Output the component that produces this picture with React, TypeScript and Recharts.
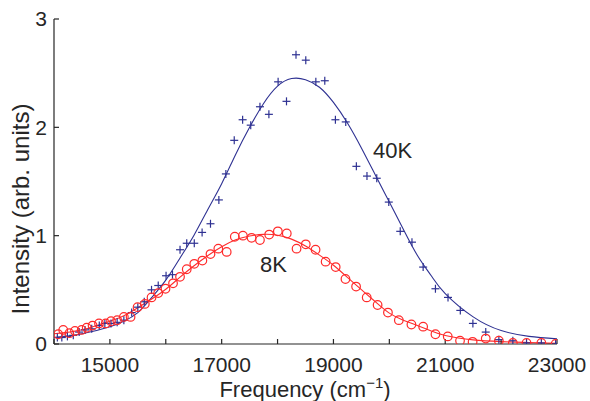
import React from 'react';
import { ComposedChart, Line, Scatter, XAxis, YAxis } from 'recharts';

// measured points, 40K (crosses)
const freq40 = [
  14060, 14140, 14240, 14345, 14450, 14555, 14675, 14810, 14910, 15020,
  15130, 15250, 15390, 15500, 15615, 15745, 15865, 16005, 16120, 16255,
  16375, 16510, 16650, 16800, 16950, 17075, 17225, 17375, 17520, 17685,
  17845, 18010, 18160, 18330, 18505, 18685, 18845, 19035, 19220, 19410,
  19600, 19775, 19990, 20195, 20405, 20605, 20825, 21050, 21270, 21495,
  21725, 21960, 22210, 22455, 22720, 22975,
];
const int40 = [
  0.06, 0.06, 0.07, 0.08, 0.11, 0.13, 0.14, 0.17, 0.19, 0.19,
  0.2, 0.22, 0.29, 0.34, 0.39, 0.5, 0.54, 0.63, 0.64, 0.87,
  0.93, 0.93, 1.03, 1.11, 1.33, 1.57, 1.88, 2.07, 2.02, 2.19,
  2.12, 2.42, 2.24, 2.67, 2.62, 2.42, 2.43, 2.07, 2.05, 1.64,
  1.55, 1.53, 1.31, 1.04, 0.94, 0.71, 0.51, 0.43, 0.31, 0.19,
  0.11, 0.04, 0.03, 0.01, 0.01, 0.0,
];

// measured points, 8K (circles)
const freq8 = [
  14075, 14165, 14275, 14375, 14495, 14585, 14690, 14805, 14925, 15020,
  15130, 15250, 15370, 15495, 15625, 15745, 15865, 15995, 16130, 16255,
  16375, 16510, 16655, 16800, 16940, 17090, 17235, 17380, 17535, 17685,
  17850, 18005, 18165, 18340, 18505, 18680, 18860, 19040, 19215, 19405,
  19595, 19790, 19975, 20170, 20395, 20605, 20825, 21045, 21265, 21490,
  21725, 21960, 22210, 22455, 22720, 22975,
];
const int8 = [
  0.09, 0.13, 0.1, 0.12, 0.13, 0.15, 0.17, 0.19, 0.19, 0.21,
  0.22, 0.25, 0.25, 0.34, 0.37, 0.43, 0.47, 0.51, 0.56, 0.62,
  0.69, 0.74, 0.77, 0.83, 0.88, 0.85, 0.99, 1.0, 0.98, 0.96,
  1.01, 1.04, 1.02, 0.88, 0.92, 0.87, 0.76, 0.71, 0.6, 0.53,
  0.43, 0.36, 0.29, 0.22, 0.18, 0.16, 0.09, 0.07, 0.03, 0.02,
  0.05, 0.03, 0.01, 0.01, 0.01, 0.0,
];

// fitted curves
const fitFreq = [
  14000, 14500, 15000, 15250, 15500, 15750, 16000, 16250, 16500, 16750,
  17000, 17250, 17500, 17750, 18000, 18250, 18500, 18750, 19000, 19250,
  19500, 19750, 20000, 20250, 20500, 20750, 21000, 21500, 22000, 22500, 23000,
];
const fit40 = [
  0.06, 0.094, 0.16, 0.21, 0.29, 0.43, 0.59, 0.79, 1.0, 1.24,
  1.48, 1.75, 2.0, 2.22, 2.38, 2.45, 2.44, 2.37, 2.23, 2.04,
  1.81, 1.56, 1.31, 1.06, 0.82, 0.63, 0.465, 0.25, 0.124, 0.07, 0.047,
];
const fit8 = [
  0.094, 0.131, 0.21, 0.26, 0.335, 0.415, 0.505, 0.615, 0.72, 0.815,
  0.897, 0.962, 0.997, 1.012, 1.004, 0.968, 0.904, 0.82, 0.727, 0.615,
  0.502, 0.39, 0.285, 0.22, 0.171, 0.12, 0.078, 0.038, 0.022, 0.013, 0.006,
];

const xTicks = [14000, 15000, 16000, 17000, 18000, 19000, 20000, 21000, 22000, 23000];
const yTicks = [0, 1, 2, 3];

const BLUE = '#2e3192';
const RED = '#ff2b2b';
const INK = '#262626';
const FONT = '"Liberation Sans", Arial, Helvetica, sans-serif';

const pts40 = freq40.map((f, i) => ({ f, v: int40[i] }));
const pts8 = freq8.map((f, i) => ({ f, v: int8[i] }));
const curve40 = fitFreq.map((f, i) => ({ f, v: fit40[i] }));
const curve8 = fitFreq.map((f, i) => ({ f, v: fit8[i] }));

const Cross = (props: any) => {
  const { cx, cy } = props;
  return (
    <g stroke={BLUE} strokeWidth={1.2}>
      <line x1={cx - 4} x2={cx + 4} y1={cy} y2={cy} />
      <line x1={cx} x2={cx} y1={cy - 4} y2={cy + 4} />
    </g>
  );
};

const Ring = (props: any) => (
  <circle cx={props.cx} cy={props.cy} r={4.3} fill="none" stroke={RED} strokeWidth={1.2} />
);

const tickStyle = { fontSize: 21, fill: INK, fontFamily: FONT };

export default function App() {
  return (
    <div style={{ position: 'absolute', left: 0, top: 0, width: 590, height: 401, background: '#fff' }}>
      <ComposedChart width={590} height={401} margin={{ top: 19, right: 33, bottom: 0, left: 0 }}>
        <XAxis
          dataKey="f"
          type="number"
          domain={[14000, 23000]}
          ticks={xTicks}
          tickFormatter={(v: number) => ((v / 1000) % 2 === 1 ? String(v) : '')}
          tickSize={-5}
          tickMargin={18}
          height={57}
          stroke={INK}
          strokeWidth={1.2}
          tick={tickStyle}
          allowDataOverflow
        />
        <XAxis
          xAxisId="top"
          orientation="top"
          dataKey="f"
          type="number"
          domain={[14000, 23000]}
          ticks={xTicks}
          tick={false}
          tickSize={-5}
          height={0}
          stroke={INK}
          strokeWidth={1.2}
        />
        <YAxis
          type="number"
          domain={[0, 3]}
          ticks={yTicks}
          tickSize={-5}
          tickMargin={12}
          width={54}
          stroke={INK}
          strokeWidth={1.2}
          tick={tickStyle}
          allowDataOverflow
        />
        <YAxis
          yAxisId="right"
          orientation="right"
          type="number"
          domain={[0, 3]}
          ticks={yTicks}
          tick={false}
          tickSize={-5}
          width={0}
          stroke={INK}
          strokeWidth={1.2}
        />
        <Line data={curve40} dataKey="v" type="natural" stroke={BLUE} strokeWidth={1.1} dot={false} isAnimationActive={false} />
        <Line data={curve8} dataKey="v" type="natural" stroke={RED} strokeWidth={1.1} dot={false} isAnimationActive={false} />
        <Scatter data={pts40} dataKey="v" shape={Cross} isAnimationActive={false} />
        <Scatter data={pts8} dataKey="v" shape={Ring} isAnimationActive={false} />
      </ComposedChart>
      <svg width={590} height={401} style={{ position: 'absolute', left: 0, top: 0, pointerEvents: 'none' }}>
        <g fontFamily={FONT} fill={INK}>
          <text x={373} y={158} fontSize={22}>40K</text>
          <text x={260} y={272} fontSize={22}>8K</text>
          <text x={305} y={397} fontSize={22} textAnchor="middle">
            Frequency (cm<tspan dy={-9} fontSize={15}>−1</tspan><tspan dy={9}>)</tspan>
          </text>
          <text x={29} y={209} fontSize={24} textAnchor="middle" transform="rotate(-90 29 209)">
            Intensity (arb. units)
          </text>
        </g>
      </svg>
    </div>
  );
}
